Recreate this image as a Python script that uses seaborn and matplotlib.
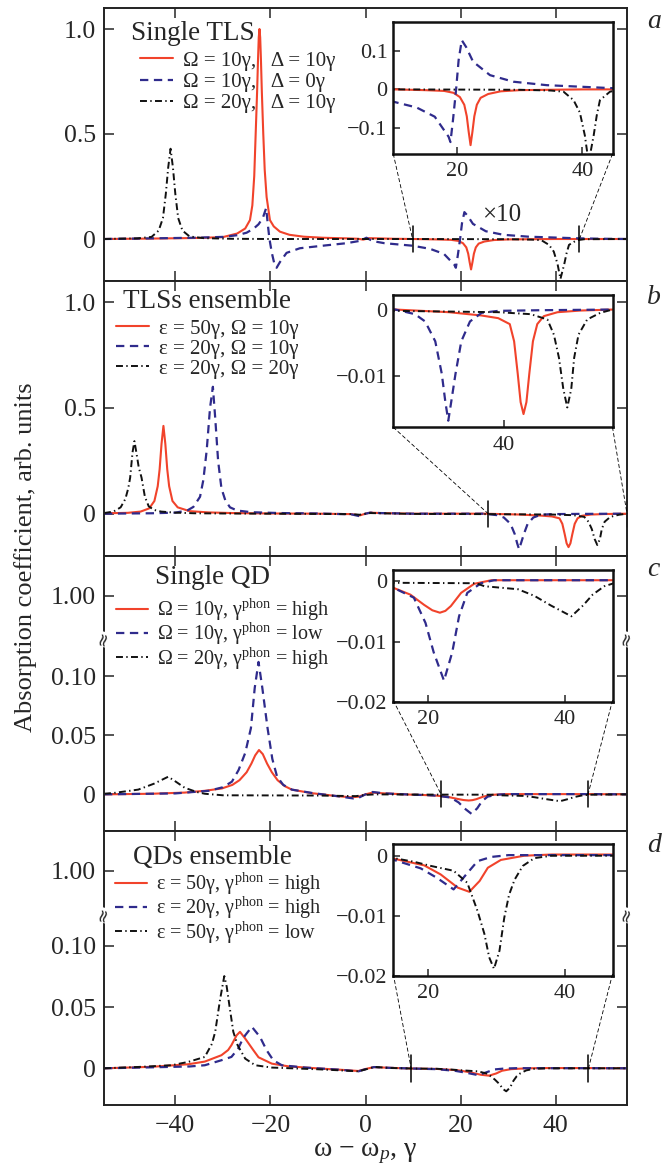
import numpy as np
import matplotlib
matplotlib.use("Agg")
import matplotlib.pyplot as plt
import seaborn as sns
from matplotlib.patches import ConnectionPatch
from matplotlib.transforms import blended_transform_factory

# ---------------- data ----------------
# (a) single TLS  (values for 10 < x < 45 are the x10 ones drawn in the plot)
a_red_x = [-55, -45, -35, -30, -27, -25.3, -24.3, -23.8, -23.4, -23.1, -22.8, -22.6, -22.45, -22.3, -22.15,
           -22.0, -21.8, -21.5, -21.2, -20.8, -20.1, -19.3, -18.0, -16, -13, -9, -4, -1.5, -0.5, 0.8, 2.5, 6,
           10, 15, 18, 19.5, 20.5, 21.2, 21.6, 21.9, 22.2, 22.5, 22.8, 23.2, 23.8, 25, 27, 30, 35, 40, 45, 55]
a_red_y = [0.0, 0.002, 0.005, 0.009, 0.026, 0.05, 0.09, 0.16, 0.3, 0.5, 0.7, 0.86, 0.96, 1.0, 0.96,
           0.86, 0.7, 0.5, 0.33, 0.2, 0.09, 0.06, 0.035, 0.02, 0.011, 0.006, 0.003, 0.001, -0.003, 0.004, 0.003, 0.001,
           0.0, -0.002, -0.004, -0.009, -0.02, -0.04, -0.07, -0.11, -0.145, -0.11, -0.07, -0.04, -0.022, -0.012,
           -0.005, -0.002, -0.001, 0.0, 0.0, 0.0]
a_blue_x = [-55, -48, -42, -36, -30, -27, -25, -23.5, -22.5, -21.6, -20.9, -20.5, -20.2, -19.7, -19.2, -18.7,
            -18.0, -16.6, -13.8, -8.2, -4, -1.2, 0.2, 1.5, 4, 9.9, 13.6, 16.5, 18.7, 19.0, 19.4, 19.9, 20.3,
            20.8, 21.5, 22.6, 25.3, 29.0, 34.3, 42.3, 45, 50, 55]
a_blue_y = [0.0, 0.002, 0.004, 0.006, 0.01, 0.018, 0.03, 0.05, 0.07, 0.1, 0.147, 0.06, 0.0, -0.066, -0.115, -0.137,
            -0.11, -0.066, -0.044, -0.03, -0.02, -0.009, 0.006, -0.01, -0.02, -0.032, -0.047, -0.071, -0.123, -0.137,
            -0.08, 0.0, 0.076, 0.128, 0.11, 0.072, 0.037, 0.02, 0.011, 0.005, 0.003, 0.001, 0.0]
a_black_x = [-55, -48, -45, -43.5, -42.6, -42.0, -41.5, -41.0, -40.5, -40.0, -39.4, -38.5, -37, -34, -28, -20,
             0, 10, 30, 35, 37, 38.6, 39.6, 40.4, 41.0, 41.8, 42.3, 42.8, 44.4, 46, 55]
a_black_y = [0.0, 0.003, 0.01, 0.04, 0.1, 0.215, 0.34, 0.43, 0.34, 0.215, 0.1, 0.04, 0.012, 0.004, 0.001, 0.0,
             0.0, 0.0, -0.001, -0.003, -0.006, -0.028, -0.06, -0.12, -0.19, -0.12, -0.067, -0.028, -0.006, -0.001, 0.0]

# (b) TLSs ensemble  (values for x > 25 are x10 in the main plot)
b_red_x = [-55, -50, -47.3, -45.5, -44.4, -43.7, -43.3, -42.9, -42.5, -42.1, -41.7, -41.3, -40.6, -39.5, -37,
           -33, -28, -20, -10, -3, -1.2, 0, 1, 3, 10, 25, 32.4, 36.9, 39.2, 40.8, 41.4, 41.9, 42.3, 42.7, 43.1,
           43.5, 44.0, 44.6, 45.5, 47.4, 50.6, 55]
b_red_y = [0.002, 0.004, 0.01, 0.025, 0.06, 0.13, 0.21, 0.33, 0.415, 0.33, 0.21, 0.13, 0.06, 0.03, 0.012,
           0.006, 0.003, 0.001, 0.0, -0.002, -0.008, 0.0, 0.005, 0.003, 0.0, 0.0, -0.004, -0.009, -0.013, -0.022,
           -0.048, -0.097, -0.14, -0.158, -0.14, -0.097, -0.048, -0.022, -0.01, -0.004, -0.0015, 0.0]
b_blue_x = [-55, -45, -40, -37.5, -36.2, -34.8, -34.1, -33.4, -32.7, -32.1, -31.6, -31.0, -30.3, -29.5, -28.5,
            -27, -24, -18, -10, -3, -1.2, 0, 1, 3, 10, 25, 27.7, 29.1, 30.5, 31.4, 31.9, 32.3, 32.7, 33.3, 34.1,
            35.3, 36.9, 39.2, 45, 55]
b_blue_y = [0.0, 0.002, 0.005, 0.015, 0.032, 0.08, 0.16, 0.3, 0.5, 0.6, 0.45, 0.25, 0.12, 0.064, 0.03,
            0.015, 0.007, 0.003, 0.001, -0.003, -0.012, 0.0, 0.005, 0.003, 0.0, 0.0, -0.007, -0.018, -0.048, -0.097,
            -0.14, -0.168, -0.14, -0.097, -0.048, -0.018, -0.005, -0.002, -0.001, 0.0]
b_black_x = [-55, -53, -51.5, -50.5, -49.9, -49.5, -49.0, -48.6, -48.2, -47.7, -47.1, -46.4, -45.6, -44.5, -43,
             -40, -36, -30, -20, -3, -1.2, 0, 1, 3, 10, 25, 39.2, 43.7, 46.0, 46.9, 47.6, 48.2, 48.75, 49.3, 49.7,
             50.3, 51.5, 53.3, 55]
b_black_y = [0.003, 0.01, 0.03, 0.07, 0.12, 0.17, 0.29, 0.343, 0.29, 0.22, 0.17, 0.08, 0.035, 0.018, 0.01,
             0.005, 0.002, 0.001, 0.0, -0.002, -0.005, 0.0, 0.003, 0.002, -0.001, -0.002, -0.004, -0.007, -0.015,
             -0.038, -0.073, -0.12, -0.148, -0.12, -0.073, -0.038, -0.015, -0.005, 0.0]

# (c) single QD
c_red_x = [-55, -45, -38, -33.8, -30.2, -28, -26.5, -25.0, -24.0, -23.2, -22.4, -21.6, -20.7, -19.7, -18.5,
           -17, -15.5, -11.3, -6, -3, -1.5, 0, 1.5, 4, 10, 12.5, 15, 17.4, 19.4, 20.6, 21.7, 22.5, 23.3, 24.8,
           26.7, 29.2, 47, 55]
c_red_y = [0.0, 0.0005, 0.0015, 0.003, 0.005, 0.008, 0.012, 0.0187, 0.026, 0.033, 0.0375, 0.034, 0.026, 0.0187,
           0.012, 0.007, 0.004, 0.001, -0.0015, -0.0025, -0.002, 0.0, 0.0015, 0.0008, -0.0003, -0.0006, -0.0011,
           -0.0022, -0.0039, -0.0048, -0.0052, -0.0049, -0.0041, -0.0019, -0.0004, 0.0002, 0.0002, 0.0]
c_blue_x = [-55, -40, -33, -30, -28.1, -26.7, -25.3, -24.1, -23.3, -22.5, -21.7, -20.6, -19.6, -18.6, -17.3,
            -15.5, -11, -6, -2.5, -1.5, 0, 1.5, 4, 10, 12.5, 15, 17.9, 19.6, 20.8, 22.3, 23.5, 24.5, 25.7, 27.7,
            29.6, 47, 55]
c_blue_y = [0.0, 0.0008, 0.003, 0.006, 0.0107, 0.0205, 0.035, 0.056, 0.09, 0.112, 0.09, 0.056, 0.03, 0.015,
            0.008, 0.004, 0.001, -0.0015, -0.0035, -0.003, 0.0, 0.002, 0.0008, -0.0003, -0.0006, -0.0011, -0.0027,
            -0.0069, -0.0118, -0.0165, -0.0118, -0.0058, -0.0019, -0.0003, 0.0002, 0.0002, 0.0]
c_black_x = [-55, -52.7, -47.8, -44.5, -41.5, -40, -38, -35.5, -33.8, -30, -10, -2, 0, 2, 10, 27, 28.2, 33.1,
             35.5, 37.9, 40.9, 42.6, 44.0, 45.7, 47.1, 55]
c_black_y = [0.0005, 0.0013, 0.004, 0.009, 0.0149, 0.011, 0.0055, 0.002, 0.0005, -0.0008, -0.001, -0.0015,
             -0.0005, 0.0, -0.0002, -0.0003, -0.0008, -0.0013, -0.0024, -0.004, -0.0058, -0.004, -0.0022, -0.0008,
             -0.0003, 0.0]

# (d) QDs ensemble
d_red_x = [-55, -45, -37.3, -33.8, -30.3, -28.9, -28.2, -27.1, -26.4, -25.3, -23.6, -22.5, -19.7, -16.2, -9.2,
           -4, -1.5, 0.3, 1.8, 5, 10, 15, 19.4, 21.8, 24.3, 26.0, 27.5, 28.7, 30.6, 34, 38, 47, 55]
d_red_y = [0.0, 0.0012, 0.0033, 0.0055, 0.0107, 0.0149, 0.0189, 0.027, 0.0298, 0.0243, 0.0149, 0.009, 0.0038,
           0.0016, -0.0003, -0.0015, -0.0022, -0.0003, 0.001, 0.0004, -0.0002, -0.0005, -0.0016, -0.0031, -0.0053,
           -0.006, -0.0042, -0.002, -0.0007, 0.0, 0.0002, 0.0002, 0.0]
d_blue_x = [-55, -45, -37, -33.8, -30.3, -28.2, -26.8, -26.0, -25.3, -23.9, -22.2, -20.8, -19.4, -17.6, -12.7,
            -6, -1.5, 0.3, 1.8, 5, 10, 15, 18.9, 21.3, 23.7, 25.7, 27.2, 29.2, 31.7, 47, 55]
d_blue_y = [0.0, 0.0008, 0.0015, 0.0025, 0.0066, 0.0093, 0.016, 0.0225, 0.027, 0.0339, 0.0257, 0.0148, 0.0066,
            0.0025, 0.0006, -0.001, -0.0025, -0.0003, 0.001, 0.0004, -0.0002, -0.0007, -0.0021, -0.0037, -0.0056,
            -0.0029, -0.0009, -0.0002, 0.0001, 0.0001, 0.0]
d_black_x = [-55, -47.8, -40.8, -37.3, -33.8, -32.3, -31.6, -30.6, -29.7, -29.2, -28.5, -27.8, -26.9, -25.3,
             -23.2, -19.7, -10, -5.7, -1.5, 0.6, 1.9, 5, 10, 15, 17.9, 20.4, 23.7, 25.7, 27.2, 28.2, 28.9, 29.6,
             30.4, 31.1, 31.8, 32.6, 33.8, 35.5, 38, 55]
d_black_y = [0.0, 0.0011, 0.0025, 0.0052, 0.0093, 0.02, 0.03, 0.056, 0.0754, 0.067, 0.048, 0.0298, 0.0189,
             0.0079, 0.0025, 0.0006, -0.0008, -0.0016, -0.0025, -0.0003, 0.0011, 0.0003, -0.0002, -0.0004, -0.001,
             -0.0017, -0.0025, -0.0045, -0.0092, -0.013, -0.0169, -0.0188, -0.0158, -0.0103, -0.0065, -0.004,
             -0.0017, -0.0004, 0.0, 0.0]

a_labels = ["Ω = 10γ,   Δ = 10γ", "Ω = 10γ,   Δ = 0γ", "Ω = 20γ,   Δ = 10γ"]
b_labels = ["ε = 50γ, Ω = 10γ", "ε = 20γ, Ω = 10γ", "ε = 20γ, Ω = 20γ"]
c_labels = [r"Ω = 10γ, γ$^{\rm phon}$ = high", r"Ω = 10γ, γ$^{\rm phon}$ = low",
            r"Ω = 20γ, γ$^{\rm phon}$ = high"]
d_labels = [r"ε = 50γ, γ$^{\rm phon}$ = high", r"ε = 20γ, γ$^{\rm phon}$ = high",
            r"ε = 50γ, γ$^{\rm phon}$ = low"]

# ---------------- style ----------------
sns.set_style("ticks")
plt.rcParams["font.family"] = ["Liberation Serif", "DejaVu Serif"]
plt.rcParams["mathtext.fontset"] = "custom"
plt.rcParams["mathtext.rm"] = "Liberation Serif"
plt.rcParams["mathtext.it"] = "Liberation Serif:italic"
plt.rcParams["lines.scale_dashes"] = False
plt.rcParams["axes.unicode_minus"] = True

RED = "#f1432b"
BLUE = "#2f2b8c"
BLACK = "#111111"
line_styles = [dict(color=RED, linewidth=1.5, linestyle="-"),
               dict(color=BLUE, linewidth=1.6, linestyle=(0, (6, 4))),
               dict(color=BLACK, linewidth=1.4, linestyle=(0, (5, 2.4, 1, 2.4)))]

W, H = 669, 1169
fig = plt.figure(figsize=(W / 100, H / 100), dpi=100)

def fx(px):
    return px / W

def fy(py):
    return 1 - py / H

panels = [
    dict(name="a", top=8, bot=281, ylim=(-0.2, 1.1), yt=[0, 0.5, 1.0], ytl=["0", "0.5", "1.0"],
         curves=[(a_red_x, a_red_y), (a_blue_x, a_blue_y), (a_black_x, a_black_y)], labels=a_labels,
         title="Single TLS", tpos=(131, 33), leg=(140, 51), ls=0.08, lfs=15,
         ins=(21.7, 154), ixlim=(9.9, 44.8), iylim=(-0.168, 0.176), ixt=[20, 40],
         iyt=[-0.1, 0, 0.1], iytl=["−0.1", "0", "0.1"], iscale=1.0, marks=(9.9, 45.0), mh=0.062,
         letter_y=22),
    dict(name="b", top=281, bot=556, ylim=(-0.2, 1.1), yt=[0, 0.5, 1.0], ytl=["0", "0.5", "1.0"],
         curves=[(b_red_x, b_red_y), (b_blue_x, b_blue_y), (b_black_x, b_black_y)], labels=b_labels,
         title="TLSs ensemble", tpos=(123, 302), leg=(116, 319), ls=0.02, lfs=15,
         ins=(295, 427.3), ixlim=(24.7, 55), iylim=(-0.0178, 0.0022), ixt=[40],
         iyt=[-0.01, 0], iytl=["−0.01", "0"], iscale=0.1, marks=(25.8, 55.0), mh=0.062,
         letter_y=297),
    dict(name="c", top=556, bot=831, ylim=(-0.031, 0.2016), yt=[0, 0.05, 0.10, 0.168],
         ytl=["0", "0.05", "0.10", "1.00"], brk=0.131,
         curves=[(c_red_x, c_red_y), (c_blue_x, c_blue_y), (c_black_x, c_black_y)], labels=c_labels,
         title="Single QD", tpos=(155, 578), leg=(116, 597), ls=-0.1, lfs=14.5,
         ins=(570, 701.7), ixlim=(14.9, 46.9), iylim=(-0.0198, 0.0019), ixt=[20, 40],
         iyt=[-0.02, -0.01, 0], iytl=["−0.02", "−0.01", "0"], iscale=1.0, marks=(15.9, 46.8), mh=0.011,
         letter_y=570),
    dict(name="d", top=831, bot=1105, ylim=(-0.030, 0.194), yt=[0, 0.05, 0.10, 0.1615],
         ytl=["0", "0.05", "0.10", "1.00"], brk=0.125,
         curves=[(d_red_x, d_red_y), (d_blue_x, d_blue_y), (d_black_x, d_black_y)], labels=d_labels,
         title="QDs ensemble", tpos=(133, 857), leg=(115, 871), ls=-0.1, lfs=14.5,
         ins=(844.3, 976), ixlim=(14.9, 46.9), iylim=(-0.0197, 0.0019), ixt=[20, 40],
         iyt=[-0.02, -0.01, 0], iytl=["−0.02", "−0.01", "0"], iscale=1.0, marks=(9.6, 46.9), mh=0.011,
         letter_y=845),
]

ML, MR = 104, 627
IL, IR = 393.3, 612.5

for p in panels:
    ax = fig.add_axes([fx(ML), fy(p["bot"]), fx(MR - ML), (p["bot"] - p["top"]) / H])
    handles = []
    for (xs, ys), st in zip(p["curves"], line_styles):
        sns.lineplot(x=xs, y=ys, ax=ax, estimator=None, sort=False, legend=False, **st)
        handles.append(ax.lines[-1])
    ax.set_xlim(-55, 55)
    ax.set_ylim(*p["ylim"])
    ax.set_xticks([-40, -20, 0, 20, 40])
    ax.set_yticks(p["yt"])
    ax.set_yticklabels(p["ytl"])
    ax.tick_params(direction="in", top=True, right=True, length=7, width=1.1, labelsize=18.5, pad=6)
    ax.tick_params(axis="x", pad=7)
    if p["name"] != "d":
        ax.tick_params(labelbottom=False)
    else:
        ax.set_xticklabels(["−40", "−20", "0", "20", "40"])
    for s in ax.spines.values():
        s.set_linewidth(1.4)
        s.set_color("#222222")
    ax.set_xlabel("")
    ax.set_ylabel("")

    # legend and title
    ax.legend(handles, p["labels"], loc="upper left",
              bbox_to_anchor=((p["leg"][0] - ML) / (MR - ML), 1 - (p["leg"][1] - p["top"]) / (p["bot"] - p["top"])),
              frameon=False, fontsize=p["lfs"], handlelength=1.6, handletextpad=0.45,
              labelspacing=p["ls"], borderpad=0, borderaxespad=0)
    fig.text(fx(p["tpos"][0]), fy(p["tpos"][1]), p["title"], fontsize=19.5, ha="left", va="center")
    fig.text(fx(647), fy(p["letter_y"]), p["name"], fontsize=20, style="italic", ha="left", va="center")

    # zoom markers on the main axis
    for mx in p["marks"]:
        ax.plot([mx, mx], [-p["mh"], p["mh"]], color="black", lw=1.1, clip_on=False)

    # axis break (panels c, d)
    if "brk" in p:
        tr = blended_transform_factory(ax.transAxes, ax.transData)
        for xa in (0, 1):
            ax.text(xa, p["brk"], "≈", transform=tr, rotation=75, ha="center", va="center", fontsize=13,
                    family="DejaVu Sans", clip_on=False,
                    bbox=dict(facecolor="white", edgecolor="none", pad=0.0))

    if p["name"] == "a":
        ax.text(24.5, 0.114, "×10", fontsize=18, ha="left", va="center")

    # inset
    it, ib = p["ins"]
    ins = fig.add_axes([fx(IL), fy(ib), fx(IR - IL), (ib - it) / H])
    for (xs, ys), st in zip(p["curves"], line_styles):
        sns.lineplot(x=xs, y=np.array(ys) * p["iscale"], ax=ins, estimator=None, sort=False, legend=False, **st)
    ins.set_xlim(*p["ixlim"])
    ins.set_ylim(*p["iylim"])
    ins.set_xticks(p["ixt"])
    ins.set_yticks(p["iyt"])
    ins.set_yticklabels(p["iytl"])
    ins.tick_params(direction="in", length=5, width=1.1, labelsize=16, pad=4)
    ins.tick_params(axis="x", pad=6)
    for s in ins.spines.values():
        s.set_linewidth(1.8)
        s.set_color("#111111")
    ins.set_xlabel("")
    ins.set_ylabel("")

    # connector lines inset -> main
    for xi, mx in ((p["ixlim"][0], p["marks"][0]), (p["ixlim"][1], p["marks"][1])):
        con = ConnectionPatch(xyA=(xi, p["iylim"][0]), coordsA=ins.transData,
                              xyB=(mx, 0), coordsB=ax.transData,
                              linestyle=(0, (2.5, 2.0)), linewidth=0.6, color="black")
        fig.add_artist(con)

fig.text(fx(26), fy(557), "Absorption coefficient, arb. units", rotation=90, fontsize=19,
         ha="center", va="center")
fig.text(fx(365.5), fy(1153), r"ω − ω$_p$, γ", fontsize=20, ha="center", va="center")

fig.savefig("out.png", dpi=100)
